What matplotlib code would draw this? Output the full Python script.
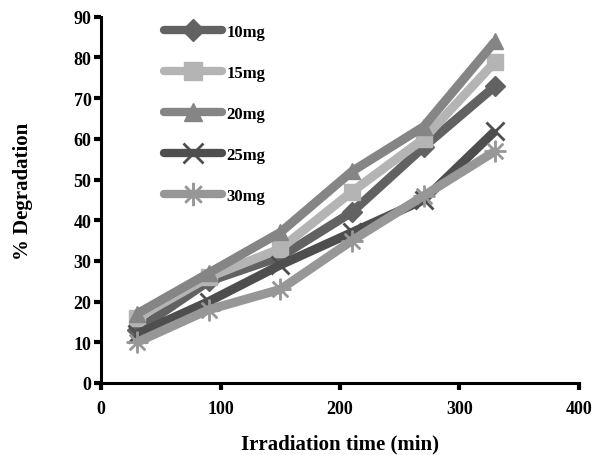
import matplotlib
matplotlib.use("Agg")
import matplotlib.pyplot as plt
from matplotlib.lines import Line2D

time_min = [30, 90, 150, 210, 270, 330]
labels = ["10mg", "15mg", "20mg", "25mg", "30mg"]
deg_10mg = [13, 25, 31, 42, 58, 73]
deg_15mg = [16, 26, 33, 47, 60, 79]
deg_20mg = [17, 27, 37, 52, 63, 84]
deg_25mg = [12, 20, 29, 37, 45, 62]
deg_30mg = [10, 18, 23, 35, 46, 57]
series = [deg_10mg, deg_15mg, deg_20mg, deg_25mg, deg_30mg]

colors = ["#626262", "#b4b4b4", "#858585", "#4e4e4e", "#979797"]
markers = ["D", "s", "^", "x", "$\u2733$"]
msizes = [10, 12, 12, 13, 15]
mews = [1, 1, 1, 2.0, 1]

plt.rcParams["font.family"] = ["Liberation Serif", "DejaVu Serif"]
plt.rcParams["font.weight"] = "bold"

fig = plt.figure(figsize=(5.95, 4.56), dpi=100)
ax = fig.add_axes([0.17, 0.158, 0.803, 0.803])

handles = []
for vals, c, m, ms, mew, lab in zip(series, colors, markers, msizes, mews, labels):
    ax.plot(time_min, vals, color=c, lw=6.5, solid_capstyle="butt",
            marker=m, ms=ms, mec=c, mfc=c, mew=mew, zorder=3)
    handles.append(Line2D([0], [0], color=c, lw=6, solid_capstyle="round",
                          marker=m, ms=ms + 1, mec=c, mfc=c, mew=mew, label=lab))

ax.set_xlim(0, 400)
ax.set_ylim(0, 90)
ax.set_xticks([0, 100, 200, 300, 400])
ax.set_yticks(range(0, 91, 10))
for s in ["top", "right"]:
    ax.spines[s].set_visible(False)
for s in ["left", "bottom"]:
    ax.spines[s].set_linewidth(2.2)
ax.tick_params(axis="both", width=3, length=5, labelsize=13, direction="out")
for t in ax.get_xticklabels() + ax.get_yticklabels():
    t.set_fontweight("bold")
ax.tick_params(axis="x", pad=7)
ax.tick_params(axis="y", pad=2)

ax.set_xlabel("Irradiation time (min)", fontsize=15, fontweight="bold", labelpad=12)
ax.set_ylabel("% Degradation", fontsize=15, fontweight="bold")
ax.yaxis.set_label_coords(-0.142, 0.525)

leg = ax.legend(handles=handles, loc="upper left", bbox_to_anchor=(0.1, 1.022),
                frameon=False, handlelength=3.5, labelspacing=1.5,
                handletextpad=0.25, prop={"family": ["Liberation Serif"],
                                          "weight": "bold", "size": 12})

fig.savefig("out.png", dpi=100)
